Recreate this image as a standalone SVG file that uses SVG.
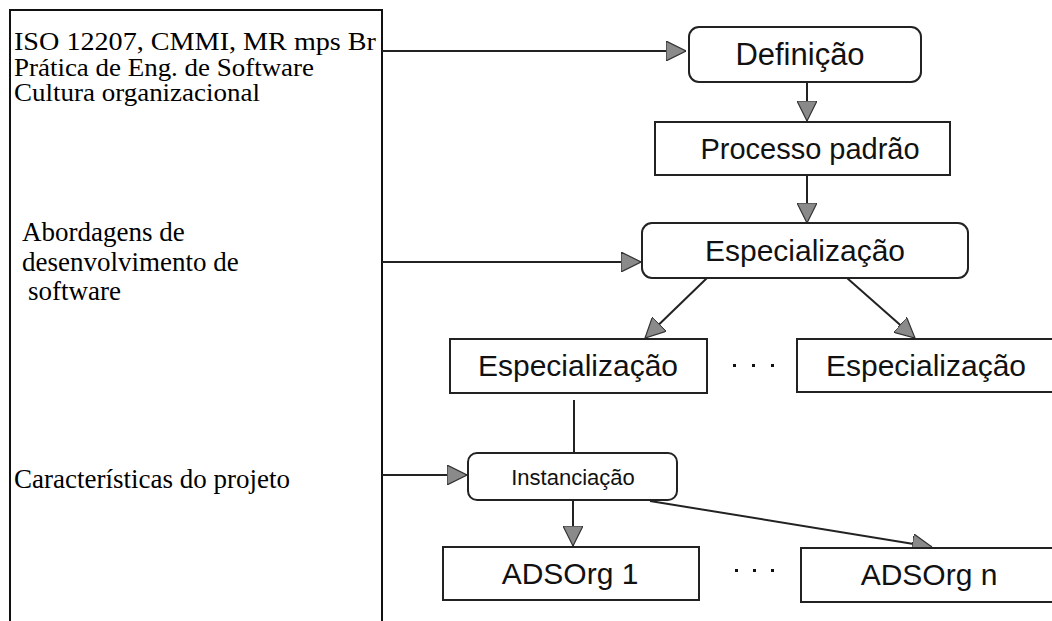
<svg xmlns="http://www.w3.org/2000/svg" width="1052" height="621" viewBox="0 0 1052 621">
<style>
.box{fill:#fff;stroke:#222;stroke-width:2}
.lbl{font-family:"Liberation Sans",Arial,sans-serif;fill:#111;text-anchor:middle}
.src{font-family:"Liberation Serif","Times New Roman",serif;font-size:27px;fill:#000}
.src.top{font-size:25px}
.conn{stroke:#222;stroke-width:2;fill:none}
</style>
<defs>
<marker id="ah" viewBox="0 0 20 20" refX="20" refY="10" markerWidth="20" markerHeight="20" markerUnits="userSpaceOnUse" orient="auto">
<path d="M0,0 L20,10 L0,20 Z" fill="#8a8a8a" stroke="#333" stroke-width="1.2"/>
</marker>
</defs>
<rect width="1052" height="621" fill="#fff"/>
<g id="sources">
<path d="M10,625 V10 H382 V625" fill="none" stroke="#111" stroke-width="2"/>
<text class="src top" x="14" y="50" textLength="362" lengthAdjust="spacingAndGlyphs">ISO 12207, CMMI, MR mps Br</text>
<text class="src top" x="14" y="75.5" textLength="300" lengthAdjust="spacingAndGlyphs">Prática de Eng. de Software</text>
<text class="src top" x="14" y="101" textLength="246" lengthAdjust="spacingAndGlyphs">Cultura organizacional</text>
<text class="src" x="22" y="241">Abordagens de</text>
<text class="src" x="22" y="271">desenvolvimento de</text>
<text class="src" x="28" y="300">software</text>
<text class="src" x="14" y="488">Características do projeto</text>
</g>
<g id="connectors">
<line class="conn" x1="382" y1="51" x2="686" y2="51" marker-end="url(#ah)"/>
<line class="conn" x1="807" y1="82" x2="807" y2="121" marker-end="url(#ah)"/>
<line class="conn" x1="807" y1="175" x2="807" y2="223" marker-end="url(#ah)"/>
<line class="conn" x1="382" y1="262" x2="641" y2="262" marker-end="url(#ah)"/>
<line class="conn" x1="707" y1="278" x2="645" y2="338" marker-end="url(#ah)"/>
<line class="conn" x1="847" y1="278" x2="915" y2="338" marker-end="url(#ah)"/>
<line class="conn" x1="574" y1="400" x2="574" y2="453"/>
<line class="conn" x1="382" y1="475" x2="467" y2="475" marker-end="url(#ah)"/>
<line class="conn" x1="573" y1="500" x2="573" y2="546" marker-end="url(#ah)"/>
<line class="conn" x1="650" y1="501" x2="932" y2="547" marker-end="url(#ah)"/>
</g>
<g id="definicao">
<rect class="box" x="689" y="27" width="232" height="55" rx="10"/>
<text class="lbl" x="800" y="65" font-size="31">Definição</text>
</g>
<g id="processo-padrao">
<rect class="box" x="655" y="122" width="295" height="53"/>
<text class="lbl" x="810" y="159" font-size="29">Processo padrão</text>
</g>
<g id="especializacao-top">
<rect class="box" x="642" y="223" width="326" height="55" rx="10"/>
<text class="lbl" x="805" y="261" font-size="30">Especialização</text>
</g>
<g id="especializacao-1">
<rect class="box" x="450" y="339" width="257" height="54"/>
<text class="lbl" x="578" y="376" font-size="30">Especialização</text>
</g>
<g id="dots-1">
<rect x="733" y="364" width="3" height="3" fill="#111"/>
<rect x="752" y="364" width="3" height="3" fill="#111"/>
<rect x="771" y="364" width="3" height="3" fill="#111"/>
</g>
<g id="especializacao-n">
<rect class="box" x="797" y="339" width="270" height="53"/>
<text class="lbl" x="926" y="376" font-size="30">Especialização</text>
</g>
<g id="instanciacao">
<rect class="box" x="468" y="453" width="209" height="47" rx="9"/>
<text class="lbl" x="573" y="485" font-size="22">Instanciação</text>
</g>
<g id="adsorg-1">
<rect class="box" x="443" y="547" width="256" height="53"/>
<text class="lbl" x="570" y="584" font-size="30">ADSOrg 1</text>
</g>
<g id="dots-2">
<rect x="735" y="569" width="3" height="3" fill="#111"/>
<rect x="753" y="569" width="3" height="3" fill="#111"/>
<rect x="771" y="569" width="3" height="3" fill="#111"/>
</g>
<g id="adsorg-n">
<rect class="box" x="801" y="548" width="270" height="54"/>
<text class="lbl" x="929" y="585" font-size="30">ADSOrg n</text>
</g>
</svg>
